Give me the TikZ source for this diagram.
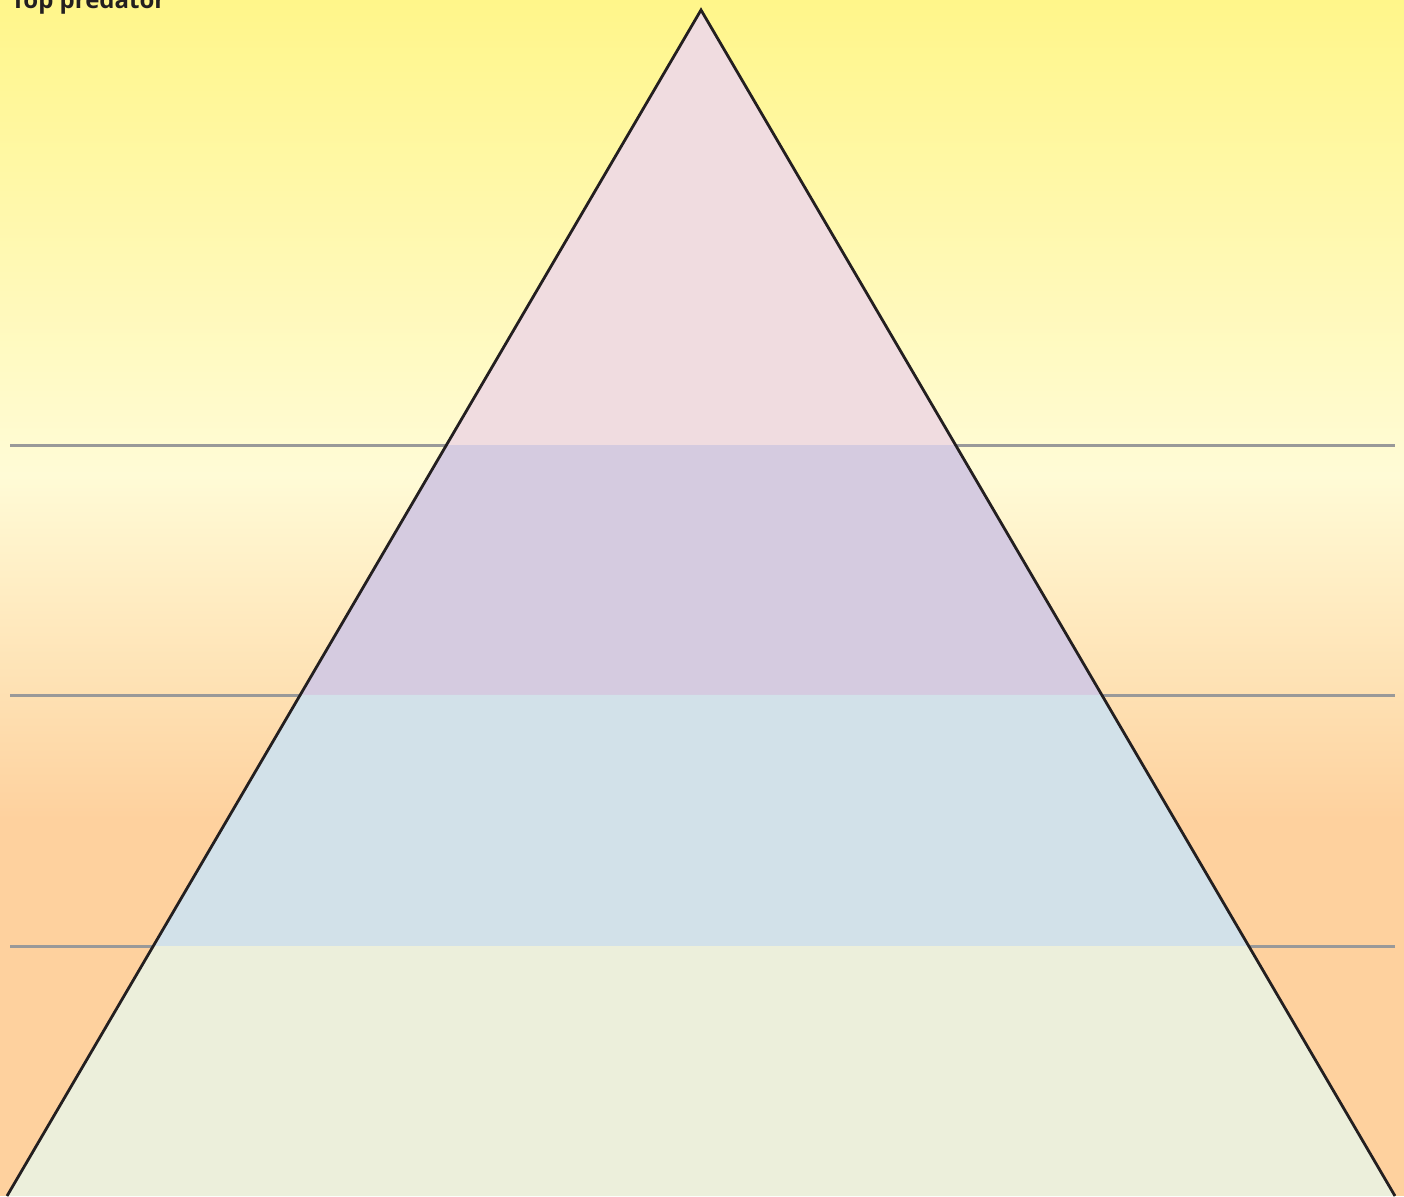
\documentclass[tikz,border=0pt]{standalone}
\usepackage{fontspec}
\setmainfont{Open Sans}
\usepackage{xcolor}
\usepackage{tikz}
\usetikzlibrary{calc}
\definecolor{ceuTopo}{RGB}{255,246,138}
\definecolor{ceuClaro}{RGB}{255,251,214}
\definecolor{ceuBaixo}{RGB}{254,209,158}
\definecolor{nivelRosa}{RGB}{240,220,224}
\definecolor{nivelLilas}{RGB}{213,203,224}
\definecolor{nivelAzul}{RGB}{210,225,233}
\definecolor{nivelVerde}{RGB}{236,239,219}
\definecolor{contorno}{RGB}{35,31,32}
\tikzset{
    divisa/.style={draw=gray!80, line width=3pt},
    faixa/.style={draw=none},
    piramide/.style={draw=contorno, line width=2.8pt, line join=miter},
    rotulo/.style={font=\bfseries\fontsize{24}{26}\selectfont, text=contorno, inner sep=0pt}
}

\begin{document}
\begin{tikzpicture}[x=1pt, y=-1pt]
    \useasboundingbox (0,0) rectangle (1404,1196);
    \clip (0,0) rectangle (1404,1196);

    % fundo
    \shade[top color=ceuTopo, bottom color=ceuClaro] (0,0) rectangle (1404,475);
    \shade[top color=ceuClaro, bottom color=ceuBaixo] (0,475) rectangle (1404,820);
    \fill[ceuBaixo] (0,820) rectangle (1404,1196);

    \coordinate (topo) at (701,10);
    \coordinate (baseE) at (7,1196);
    \coordinate (baseD) at (1395,1196);

    \coordinate (l1a) at (10,445);  \coordinate (l1b) at (1395,445);
    \coordinate (l2a) at (10,695);  \coordinate (l2b) at (1395,695);
    \coordinate (l3a) at (10,946);  \coordinate (l3b) at (1395,946);

    \draw[divisa] (l1a) -- (l1b);
    \draw[divisa] (l2a) -- (l2b);
    \draw[divisa] (l3a) -- (l3b);

    % cantos das faixas
    \coordinate (e1) at ($(topo)!{(445-10)/1186}!(baseE)$);
    \coordinate (d1) at ($(topo)!{(445-10)/1186}!(baseD)$);
    \coordinate (e2) at ($(topo)!{(695-10)/1186}!(baseE)$);
    \coordinate (d2) at ($(topo)!{(695-10)/1186}!(baseD)$);
    \coordinate (e3) at ($(topo)!{(946-10)/1186}!(baseE)$);
    \coordinate (d3) at ($(topo)!{(946-10)/1186}!(baseD)$);

    \fill[faixa, nivelRosa] (topo) -- (d1) -- (e1) -- cycle;
    \fill[faixa, nivelLilas] (e1) -- (d1) -- (d2) -- (e2) -- cycle;
    \fill[faixa, nivelAzul] (e2) -- (d2) -- (d3) -- (e3) -- cycle;
    \fill[faixa, nivelVerde] (e3) -- (d3) -- (baseD) -- (baseE) -- cycle;

    \draw[piramide] (baseE) -- (topo) -- (baseD);

    \node[rotulo, anchor=base west] (titulo) at (11,9) {Top predator};
\end{tikzpicture}
\end{document}
